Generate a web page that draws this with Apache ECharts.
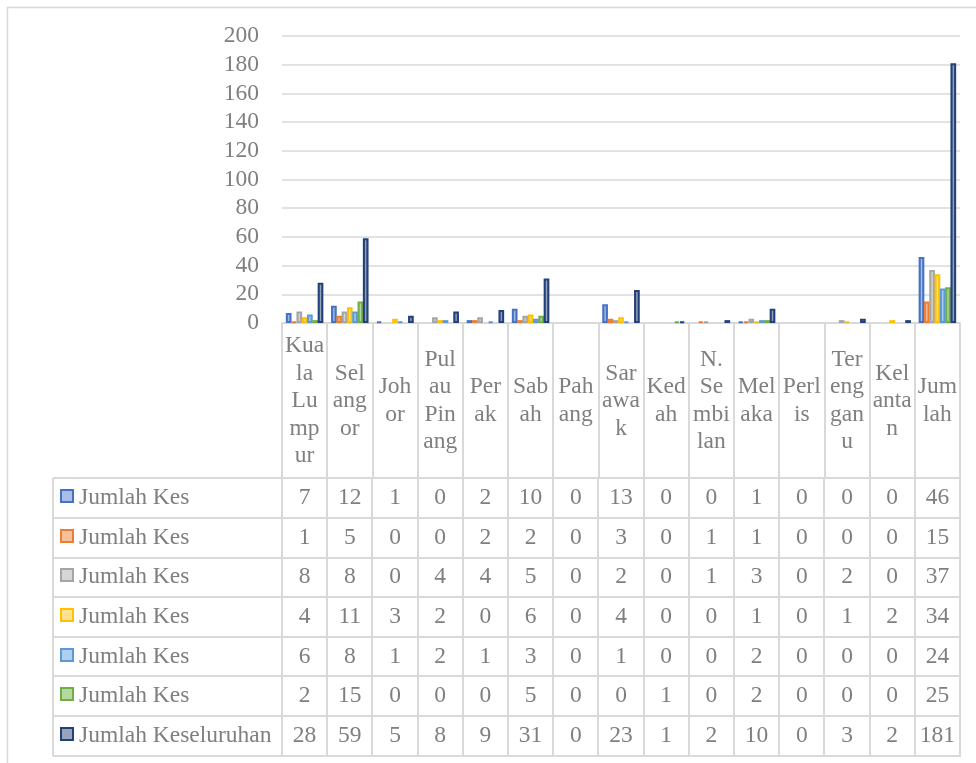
<!DOCTYPE html>
<html><head><meta charset="utf-8">
<script src="https://cdn.jsdelivr.net/npm/echarts@6/dist/echarts.min.js"></script>
<style>html,body{margin:0;padding:0;background:#fff}#c{width:976px;height:763px}</style>
</head><body><div id="c"></div>
<script>
// ---- data ----
const categories = ['Kuala Lumpur','Selangor','Johor','Pulau Pinang','Perak','Sabah','Pahang','Sarawak','Kedah','N. Sembilan','Melaka','Perlis','Terengganu','Kelantan','Jumlah'];
const categoryTickLabels = ['Kua\nla\nLu\nmp\nur','Sel\nang\nor','Joh\nor','Pul\nau\nPin\nang','Per\nak','Sab\nah','Pah\nang','Sar\nawa\nk','Ked\nah','N.\nSe\nmbi\nlan','Mel\naka','Perl\nis','Ter\neng\ngan\nu','Kel\nanta\nn','Jum\nlah'];
const seriesNames = ['Jumlah Kes','Jumlah Kes','Jumlah Kes','Jumlah Kes','Jumlah Kes','Jumlah Kes','Jumlah Keseluruhan'];
const kes1 = [7,12,1,0,2,10,0,13,0,0,1,0,0,0,46];
const kes2 = [1,5,0,0,2,2,0,3,0,1,1,0,0,0,15];
const kes3 = [8,8,0,4,4,5,0,2,0,1,3,0,2,0,37];
const kes4 = [4,11,3,2,0,6,0,4,0,0,1,0,1,2,34];
const kes5 = [6,8,1,2,1,3,0,1,0,0,2,0,0,0,24];
const kes6 = [2,15,0,0,0,5,0,0,1,0,2,0,0,0,25];
const keseluruhan = [28,59,5,8,9,31,0,23,1,2,10,0,3,2,181];
const yTickLabels = ['0','20','40','60','80','100','120','140','160','180','200'];

// ---- style ----
const seriesData = [kes1,kes2,kes3,kes4,kes5,kes6,keseluruhan];
const mainColors = ['#4472C4','#ED7D31','#A5A5A5','#FFC000','#5B9BD5','#70AD47','#22407a'];
const lightColors = ['#a9bde6','#f7bf9c','#d6d6d6','#ffe28f','#b0cfee','#b5d89e','#98a4ba'];
const FONT = "Liberation Serif";
const FS = 23.5;
const TXT = '#7f7f7f';
const LINE = '#d9d9d9';
const G = {left:282, right:960, top:36, bottom:323};
const tableTop = 478.3, rowH = 39.6, tableLeft = 53;

const chart = echarts.init(document.getElementById('c'), null, {renderer:'canvas'});

const series = seriesData.map((arr, i) => ({
  name: seriesNames[i] + ' ' + i,
  type: 'bar',
  barGap: '-7%',
  barCategoryGap: '17%',
  data: arr.map(v => v === 0 ? {value: 0, itemStyle: {borderWidth: 0, opacity: 0}} : v),
  itemStyle: {
    color: new echarts.graphic.LinearGradient(0,0,1,0,[
      {offset:0, color: mainColors[i]},
      {offset:0.5, color: lightColors[i]},
      {offset:1, color: mainColors[i]}
    ]),
    borderColor: mainColors[i],
    borderWidth: 2
  },
  silent: true
}));

const graphics = [];
const colW = (G.right - G.left) / categories.length;
const nRows = seriesData.length;
graphics.push({type:'line', shape:{x1:7, y1:7.5, x2:976, y2:7.5}, style:{stroke:LINE, lineWidth:1.5}});
graphics.push({type:'line', shape:{x1:7.5, y1:7, x2:7.5, y2:763}, style:{stroke:LINE, lineWidth:1.5}});
for (let r = 0; r <= nRows; r++) {
  const y = Math.round(tableTop + r * rowH);
  graphics.push({type:'line', shape:{x1:tableLeft, y1:y, x2:G.right+1, y2:y}, style:{stroke:LINE, lineWidth:2}});
}
graphics.push({type:'line', shape:{x1:tableLeft, y1:Math.round(tableTop), x2:tableLeft, y2:Math.round(tableTop+nRows*rowH)}, style:{stroke:LINE, lineWidth:2}});
for (let c = 0; c <= categories.length; c++) {
  const x = Math.round(G.left + c * colW);
  graphics.push({type:'line', shape:{x1:x, y1:Math.round(tableTop), x2:x, y2:Math.round(tableTop+nRows*rowH)}, style:{stroke:LINE, lineWidth:2}});
}
seriesData.forEach((arr, r) => {
  const yc = tableTop + r * rowH + rowH / 2;
  graphics.push({type:'rect', shape:{x:61, y:Math.round(yc)-8, width:12, height:12},
    style:{fill: lightColors[r], stroke: mainColors[r], lineWidth:2}});
  graphics.push({type:'text', style:{text: seriesNames[r], x:79, y:yc, font: FS + 'px ' + FONT, fill:TXT, align:'left', verticalAlign:'middle'}});
  arr.forEach((v, c) => {
    graphics.push({type:'text', style:{text: String(v), x: G.left + c*colW + colW/2, y: yc, font: FS + 'px ' + FONT, fill:TXT, align:'center', verticalAlign:'middle'}});
  });
});

chart.setOption({
  animation: false,
  backgroundColor: '#fff',
  grid: {left: G.left, top: G.top, width: G.right - G.left, height: G.bottom - G.top, containLabel: false},
  xAxis: {
    type: 'category',
    data: categories,
    axisLine: {show: true, lineStyle: {color: LINE, width: 2}},
    axisTick: {show: true, length: 155, interval: 0, lineStyle: {color: LINE, width: 2}},
    axisLabel: {
      interval: 0, margin: 78, verticalAlign: 'middle', lineHeight: 27.5,
      fontFamily: FONT, fontSize: FS, color: TXT,
      formatter: (val, idx) => categoryTickLabels[idx]
    }
  },
  yAxis: {
    type: 'value', min: 0, max: 200, interval: 20,
    axisLine: {show: false}, axisTick: {show: false},
    axisLabel: {margin: 23, fontFamily: FONT, fontSize: FS, color: TXT,
      formatter: (v) => yTickLabels[Math.round(v / 20)]},
    splitLine: {lineStyle: {color: LINE, width: 1.5}}
  },
  series: series,
  graphic: graphics
});
</script>
</body></html>
